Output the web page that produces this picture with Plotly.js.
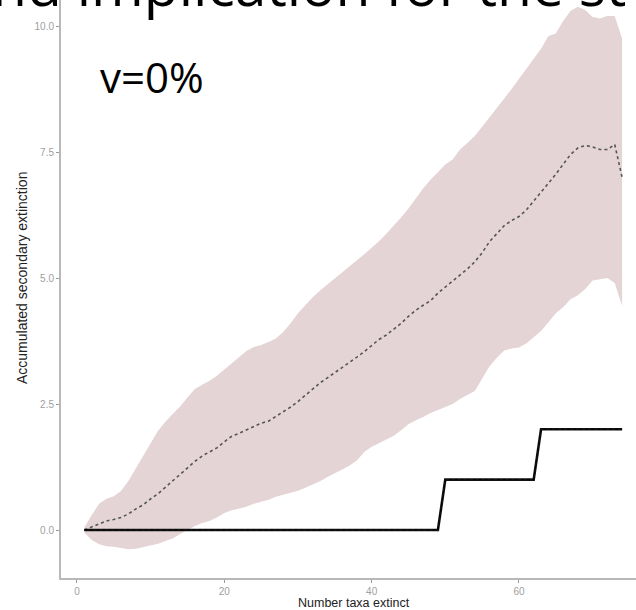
<!DOCTYPE html>
<html>
<head>
<meta charset="utf-8">
<script src="https://cdn.plot.ly/plotly-3.0.1.min.js"></script>
<style>html,body{margin:0;padding:0;background:#fff;}#chart{width:636px;height:610px;}</style>
</head>
<body>
<div id="chart"></div>
<script>
// Number of taxa extinct (x)
const taxaExtinct = [1,2,3,4,5,6,7,8,9,10,11,12,13,14,15,16,17,18,19,20,21,22,23,24,25,26,27,28,29,30,31,32,33,34,35,36,37,38,39,40,41,42,43,44,45,46,47,48,49,50,51,52,53,54,55,56,57,58,59,60,61,62,63,64,65,66,67,68,69,70,71,72,73,74];
// Mean accumulated secondary extinction (random removal, dotted)
const meanSecondary = [0.0,0.06,0.12,0.18,0.21,0.25,0.32,0.42,0.5,0.62,0.72,0.85,0.98,1.12,1.25,1.36,1.47,1.55,1.63,1.75,1.86,1.92,1.99,2.06,2.12,2.16,2.25,2.34,2.44,2.55,2.67,2.8,2.92,3.02,3.12,3.22,3.33,3.43,3.54,3.66,3.78,3.87,3.98,4.1,4.24,4.36,4.46,4.55,4.7,4.82,4.95,5.06,5.18,5.32,5.5,5.72,5.88,6.04,6.14,6.22,6.35,6.52,6.7,6.88,7.06,7.25,7.45,7.58,7.63,7.6,7.55,7.55,7.65,7.0];
// Upper bound of the ribbon
const upperSecondary = [0.05,0.3,0.52,0.62,0.67,0.78,0.98,1.22,1.48,1.72,1.97,2.15,2.3,2.45,2.63,2.8,2.88,2.96,3.06,3.18,3.3,3.42,3.55,3.63,3.67,3.73,3.8,3.93,4.1,4.3,4.47,4.62,4.75,4.87,4.98,5.11,5.22,5.34,5.47,5.6,5.73,5.88,6.03,6.2,6.38,6.58,6.78,6.95,7.1,7.25,7.35,7.55,7.68,7.82,8.0,8.18,8.38,8.56,8.75,8.95,9.15,9.35,9.55,9.8,9.85,10.1,10.3,10.38,10.32,10.18,10.15,10.2,10.2,9.75];
// Lower bound of the ribbon
const lowerSecondary = [-0.05,-0.2,-0.28,-0.32,-0.33,-0.35,-0.38,-0.37,-0.34,-0.3,-0.27,-0.22,-0.17,-0.08,0.0,0.08,0.14,0.18,0.25,0.34,0.39,0.43,0.46,0.52,0.56,0.6,0.66,0.7,0.73,0.78,0.84,0.9,0.97,1.05,1.12,1.2,1.28,1.38,1.55,1.65,1.72,1.8,1.87,1.98,2.1,2.18,2.24,2.32,2.38,2.45,2.5,2.6,2.68,2.76,3.0,3.25,3.42,3.56,3.6,3.62,3.7,3.82,3.95,4.12,4.3,4.42,4.58,4.66,4.78,4.95,4.98,5.0,4.9,4.45];
// Observed accumulated secondary extinction (solid step line)
const observedSecondary = [0,0,0,0,0,0,0,0,0,0,0,0,0,0,0,0,0,0,0,0,0,0,0,0,0,0,0,0,0,0,0,0,0,0,0,0,0,0,0,0,0,0,0,0,0,0,0,0,0,1,1,1,1,1,1,1,1,1,1,1,1,1,2,2,2,2,2,2,2,2,2,2,2,2];

const xTickVals = [0,20,40,60];
const xTickText = ['0','20','40','60'];
const yTickVals = [0,2.5,5,7.5,10];
const yTickText = ['0.0','2.5','5.0','7.5','10.0'];

const ribbonColor = 'rgb(228,212,213)';
const traces = [
  {x: taxaExtinct, y: lowerSecondary, type:'scatter', mode:'lines', line:{width:0, color:ribbonColor}, hoverinfo:'skip', showlegend:false},
  {x: taxaExtinct, y: upperSecondary, type:'scatter', mode:'lines', fill:'tonexty', fillcolor:ribbonColor, line:{width:0, color:ribbonColor}, hoverinfo:'skip', showlegend:false},
  {x: taxaExtinct, y: meanSecondary, type:'scatter', mode:'lines', line:{color:'#555555', width:1.6, dash:'dot'}, showlegend:false},
  {x: taxaExtinct, y: observedSecondary, type:'scatter', mode:'lines', line:{color:'#111111', width:2.6}, showlegend:false},
  {x: taxaExtinct, y: observedSecondary, type:'scatter', mode:'lines', line:{color:'#000000', width:1, dash:'dot'}, showlegend:false}
];

const axisCommon = {
  showline:true, linecolor:'#b8b8b8', linewidth:2, mirror:false,
  ticks:'outside', ticklen:3, tickwidth:1, tickcolor:'#9a9a9a',
  showgrid:false, zeroline:false,
  tickfont:{family:'Liberation Sans, Arial, sans-serif', size:10, color:'#a0a0a0'}
};

const layout = {
  width:636, height:610,
  margin:{l:61, r:0, t:0, b:32, pad:0},
  paper_bgcolor:'#ffffff', plot_bgcolor:'#ffffff',
  showlegend:false,
  xaxis: Object.assign({}, axisCommon, {range:[-2.17, 75.89], tickmode:'array', tickvals:xTickVals, ticktext:xTickText}),
  yaxis: Object.assign({}, axisCommon, {range:[-0.952, 10.516], tickmode:'array', tickvals:yTickVals, ticktext:yTickText}),
  annotations: [
    {text:'Number taxa extinct', xref:'paper', yref:'paper', x:0.5096, y:-0.043, xanchor:'center', yanchor:'middle', showarrow:false,
     font:{family:'Liberation Sans, Arial, sans-serif', size:12.5, color:'#222222'}},
    {text:'Accumulated secondary extinction', xref:'paper', yref:'paper', x:-0.0678, y:0.519, xanchor:'center', yanchor:'middle', textangle:-90, showarrow:false,
     font:{family:'Liberation Sans, Arial, sans-serif', size:14, color:'#222222'}},
    {text:'v=0%', xref:'paper', yref:'paper', x:0.158, y:0.867, xanchor:'center', yanchor:'middle', showarrow:false,
     font:{family:'Open Sans, sans-serif', size:42, color:'#000000'}},
    {text:'nd implication for the st', xref:'paper', yref:'paper', x:-0.1235, y:1.0275, xanchor:'left', yanchor:'middle', showarrow:false,
     font:{family:'Open Sans, sans-serif', size:57, color:'#000000'}}
  ]
};

Plotly.newPlot('chart', traces, layout, {staticPlot:true, displayModeBar:false});
</script>
</body>
</html>
